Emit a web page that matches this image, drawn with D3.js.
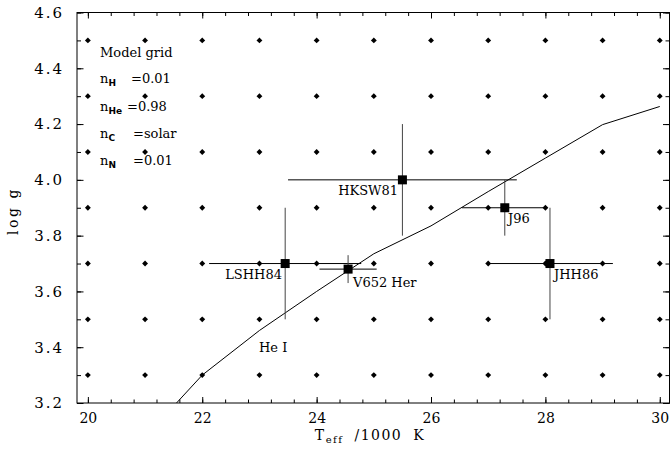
<!DOCTYPE html>
<html>
<head>
<meta charset="utf-8">
<script src="https://cdn.jsdelivr.net/npm/d3@7"></script>
<style>
  body { margin: 0; background: #fff; }
  svg { display: block; }
  text { font-family: "DejaVu Serif", serif; fill: #000; }
</style>
</head>
<body>
<svg id="chart" width="670" height="457"></svg>
<script>
// model grid points
const gridTeff = [20, 21, 22, 23, 24, 25, 26, 27, 28, 29, 30];
const gridLogg = [3.3, 3.5, 3.7, 3.9, 4.1, 4.3, 4.5];

// He I line
const heTeff = [21.55, 22, 23, 24, 25, 26, 27, 28, 29, 30];
const heLogg = [3.2, 3.3, 3.46, 3.6, 3.735, 3.835, 3.958, 4.078, 4.198, 4.263];

// published measurements
const starNames = ["HKSW81", "J96", "JHH86", "LSHH84", "V652 Her"];
const starTeff  = [25.5, 27.29, 28.08, 23.45, 24.55];
const starLogg  = [4.0, 3.9, 3.7, 3.7, 3.68];
const teffLo    = [23.5, 26.54, 26.99, 22.12, 24.05];
const teffHi    = [27.5, 28.03, 29.18, 24.78, 25.05];
const loggLo    = [3.8, 3.8, 3.5, 3.5, 3.63];
const loggHi    = [4.2, 4.0, 3.9, 3.9, 3.73];

const xMajor = [20, 22, 24, 26, 28, 30];
const yMajor = [3.2, 3.4, 3.6, 3.8, 4.0, 4.2, 4.4, 4.6];

const svg = d3.select("#chart");
const x = d3.scaleLinear().domain([19.81, 30.17]).range([77, 669.5]);
const y = d3.scaleLinear().domain([3.2, 4.6]).range([403, 12.5]);

const xMinor = d3.range(20, 30.01, 0.4).map(d => +d.toFixed(1));
const yMinor = d3.range(3.2, 4.61, 0.1).map(d => +d.toFixed(1));

const pBottom = y.range()[0], pTop = y.range()[1], pLeft = x.range()[0], pRight = x.range()[1];

// frame
svg.append("rect").attr("x", pLeft).attr("y", pTop)
  .attr("width", pRight - pLeft).attr("height", pBottom - pTop)
  .style("fill", "none").style("stroke", "black").style("stroke-width", "1px");

function ticks(axis, vals, size, pos, fmt, pad) {
  const g = svg.append("g").attr("transform", pos)
    .call(axis.tickValues(vals).tickSize(size).tickPadding(pad || 3).tickFormat(fmt || ""));
  g.select(".domain").remove();
  g.selectAll("line").style("stroke", "black");
  return g;
}

ticks(d3.axisBottom(x), xMinor, -3.5, `translate(0,${pBottom})`);
const xa = ticks(d3.axisBottom(x), xMajor, -6, `translate(0,${pBottom})`, d3.format("d"), 10);
xa.selectAll("text").style("font-size", "14px").style("font-family", "DejaVu Serif");
ticks(d3.axisTop(x), xMinor, -3.5, `translate(0,${pTop})`);
ticks(d3.axisTop(x), xMajor, -6, `translate(0,${pTop})`);

ticks(d3.axisLeft(y), yMinor, -4, `translate(${pLeft},0)`);
const ya = ticks(d3.axisLeft(y), yMajor, -6.5, `translate(${pLeft},0)`, d3.format(".1f"), 13);
ya.selectAll("text").style("font-size", "15px").style("font-family", "DejaVu Serif")
  .style("letter-spacing", "2px");
ticks(d3.axisRight(y), yMinor, -4, `translate(${pRight},0)`);
ticks(d3.axisRight(y), yMajor, -6.5, `translate(${pRight},0)`);

// grid dots
const grid = gridTeff.flatMap(t => gridLogg.map(g => [t, g]));
svg.append("g").selectAll("path").data(grid).enter().append("path")
  .attr("transform", d => `translate(${x(d[0])},${y(d[1])})`)
  .attr("d", d3.symbol(d3.symbolDiamond2, 22))
  .style("fill", "black");

// He I line
const line = d3.line().x(d => x(d[0])).y(d => y(d[1]));
svg.append("path").datum(heTeff.map((t, i) => [t, heLogg[i]]))
  .attr("d", line).style("fill", "none").style("stroke", "black").style("stroke-width", "1px");

// error bars
const stars = starNames.map((n, i) => ({ n, t: starTeff[i], g: starLogg[i],
  t0: teffLo[i], t1: teffHi[i], g0: loggLo[i], g1: loggHi[i] }));
const sg = svg.append("g");
sg.selectAll(".h").data(stars).enter().append("line")
  .attr("x1", d => x(d.t0)).attr("x2", d => x(d.t1))
  .attr("y1", d => y(d.g)).attr("y2", d => y(d.g))
  .style("stroke", "black").style("stroke-width", "1px");
sg.selectAll(".v").data(stars).enter().append("line")
  .attr("x1", d => x(d.t)).attr("x2", d => x(d.t))
  .attr("y1", d => y(d.g0)).attr("y2", d => y(d.g1))
  .style("stroke", "#444").style("stroke-width", "1px");
sg.selectAll("rect").data(stars).enter().append("rect")
  .attr("x", d => x(d.t) - 4.5).attr("y", d => y(d.g) - 4.5)
  .attr("width", 9).attr("height", 9).style("fill", "black");

// star labels
const labelPos = { "HKSW81": [398, 195, "end"], "J96": [508, 223, "start"],
  "JHH86": [554, 279, "start"], "LSHH84": [282, 279, "end"], "V652 Her": [353, 287, "start"] };
svg.append("g").selectAll("text").data(starNames).enter().append("text")
  .attr("x", d => labelPos[d][0]).attr("y", d => labelPos[d][1])
  .attr("text-anchor", d => labelPos[d][2])
  .style("font-size", "13px").text(d => d);

svg.append("text").attr("x", 259).attr("y", 352).style("font-size", "13px").text("He I");

// legend block
svg.append("text").attr("x", 100).attr("y", 57).style("font-size", "13px").text("Model grid");
const legend = [["H", "=0.01", 131, 83], ["He", "=0.98", 127, 111], ["C", "=solar", 133, 138], ["N", "=0.01", 133, 165]];
legend.forEach(([sub, val, vx, vy]) => {
  const t = svg.append("text").attr("x", 100).attr("y", vy).style("font-size", "13px");
  t.append("tspan").text("n");
  t.append("tspan").attr("dy", 3).style("font-size", "9px").style("font-weight", "bold")
    .style("font-family", "DejaVu Sans").text(sub);
  t.append("tspan").attr("x", vx).attr("y", vy).text(val);
});

// axis titles
const xt = svg.append("text").attr("x", 370).attr("y", 440).attr("text-anchor", "middle")
  .style("font-size", "14px").style("letter-spacing", "1.5px").style("word-spacing", "5px");
xt.append("tspan").text("T");
xt.append("tspan").attr("dy", 3).style("font-size", "10px").text("eff");
xt.append("tspan").attr("dy", -3).text(" /1000 K");

svg.append("text").attr("transform", "translate(18,211) rotate(-90)")
  .attr("text-anchor", "middle").style("font-size", "14px").style("letter-spacing", "2.5px")
  .text("log g");
</script>
</body>
</html>
